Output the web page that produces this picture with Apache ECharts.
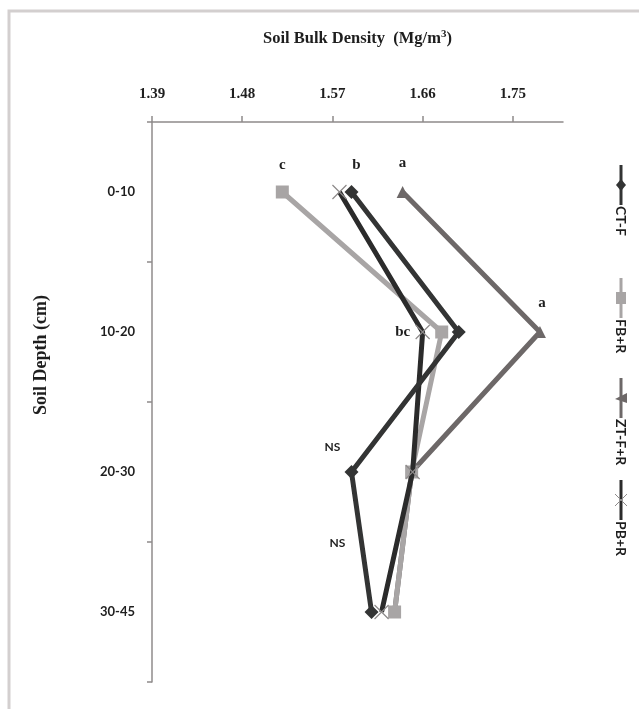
<!DOCTYPE html>
<html>
<head>
<meta charset="utf-8">
<script src="https://cdn.jsdelivr.net/npm/echarts@6/dist/echarts.min.js"></script>
<style>html,body{margin:0;padding:0;background:#fff;}#c{width:639px;height:709px;}</style>
</head>
<body>
<div id="c"></div>
<script>
const categories = ['0-10', '10-20', '20-30', '30-45'];
const xTicks = [1.39, 1.48, 1.57, 1.66, 1.75];
const ctF = [1.589, 1.696, 1.589, 1.609];
const fbR = [1.520, 1.679, 1.649, 1.632];
const ztFR = [1.640, 1.777, 1.649, 1.632];
const pbR = [1.577, 1.660, 1.650, 1.619];
const seriesNames = ['CT-F', 'FB+R', 'ZT-F+R', 'PB+R'];
// significance letters per series, per depth
const sigCT = ['b', '', 'NS', 'NS'];
const sigFB = ['c', '', '', ''];
const sigZT = ['a', 'a', '', ''];
const sigPB = ['', 'bc', '', ''];

const colors = { 'CT-F': '#333434', 'FB+R': '#a8a5a5', 'ZT-F+R': '#6d6868', 'PB+R': '#2b2b2b' };
const symbols = { 'CT-F': 'diamond', 'FB+R': 'rect', 'ZT-F+R': 'triangle', 'PB+R': 'path://M0,0L10,10M10,0L0,10' };

const serif = { fontFamily: 'Liberation Serif', fontWeight: 'bold', color: '#1e1e1e', fontSize: 15 };
const sans = { fontFamily: 'Lato', fontWeight: 'bold', color: '#1e1e1e', fontSize: 12 };

const labelOffsets = {
  'CT-F': [[5, -27], null, [-19, -25], [-34, -69]],
  'FB+R': [[0, -27], null, null, null],
  'ZT-F+R': [[0, -29], [2, -29], null, null],
  'PB+R': [null, [-20, 0], null, null]
};

function build(name, vals, sig) {
  return vals.map((v, i) => {
    const item = { value: v };
    if (sig[i]) {
      const isNS = sig[i] === 'NS';
      item.label = Object.assign({
        show: true, position: 'inside', offset: labelOffsets[name][i],
        formatter: sig[i]
      }, isNS ? sans : serif);
    }
    return item;
  });
}

function mkSeries(name, vals, sig, size, z) {
  const isCross = name === 'PB+R';
  return {
    name: name, type: 'line', data: build(name, vals, sig),
    symbol: symbols[name], symbolSize: size, z: z,
    lineStyle: { color: colors[name], width: 5 },
    itemStyle: isCross ? { color: 'rgba(0,0,0,0)', borderColor: '#8d8a8a', borderWidth: 1.2 } : { color: colors[name] },
    emphasis: { disabled: true },
    animation: false
  };
}

// Legend (vertical, drawn as graphic because the text is rotated)
const legendMarkerY = [185, 298, 398, 500];
const legendElems = [];
seriesNames.forEach((n, i) => {
  const y = legendMarkerY[i];
  legendElems.push({ type: 'line', shape: { x1: 621, y1: y - 20, x2: 621, y2: y + 20 }, style: { stroke: colors[n], lineWidth: 3 } });
  if (n === 'CT-F') legendElems.push({ type: 'polygon', shape: { points: [[621, y - 6], [626, y], [621, y + 6], [616, y]] }, style: { fill: colors[n] } });
  if (n === 'FB+R') legendElems.push({ type: 'rect', shape: { x: 616, y: y - 6, width: 10, height: 12 }, style: { fill: colors[n] } });
  if (n === 'ZT-F+R') legendElems.push({ type: 'polygon', shape: { points: [[627, y - 5], [627, y + 5], [615, y + 1]] }, style: { fill: colors[n] } });
  if (n === 'PB+R') legendElems.push({ type: 'polyline', shape: { points: [[615, y - 6], [627, y + 6]] }, style: { stroke: '#8d8a8a', lineWidth: 1 } },
    { type: 'polyline', shape: { points: [[627, y - 6], [615, y + 6]] }, style: { stroke: '#8d8a8a', lineWidth: 1 } });
  legendElems.push({ type: 'text', x: 621, y: y + 21, rotation: -Math.PI / 2,
    style: { text: n, fill: '#1e1e1e', font: 'bold 14px Lato', align: 'left', verticalAlign: 'middle' } });
});

const chart = echarts.init(document.getElementById('c'), null, { renderer: 'canvas' });
chart.setOption({
  backgroundColor: '#ffffff',
  animation: false,
  grid: { left: 152, top: 122, width: 411, height: 560, containLabel: false },
  xAxis: {
    type: 'value', position: 'top', min: 1.39, max: 1.80, interval: 0.09,
    name: 'Soil Bulk Density  (Mg/m{sup|3})', nameLocation: 'middle', nameGap: 74,
    nameTextStyle: { fontFamily: 'Liberation Serif', fontSize: 16.5, color: '#1e1e1e', fontWeight: 'bold',
      rich: { sup: { fontFamily: 'Liberation Serif', fontSize: 11, fontWeight: 'bold', color: '#1e1e1e', verticalAlign: 'top', padding: [0, 0, 8, 0] } } },
    axisLine: { show: true, lineStyle: { color: '#8f8b8b', width: 1.5 } },
    axisTick: { show: true, length: 6, lineStyle: { color: '#8f8b8b', width: 1.5 }, customValues: xTicks },
    axisLabel: Object.assign({ margin: 20, customValues: xTicks, formatter: v => v.toFixed(2) }, serif),
    splitLine: { show: false }
  },
  yAxis: {
    type: 'category', inverse: true, data: categories, boundaryGap: true,
    axisLine: { show: true, lineStyle: { color: '#8f8b8b', width: 1.5 } },
    axisTick: { show: true, length: 5, lineStyle: { color: '#8f8b8b', width: 1.5 } },
    axisLabel: Object.assign({ margin: 17 }, sans, { fontSize: 13 }),
    splitLine: { show: false }
  },
  series: [
    mkSeries('ZT-F+R', ztFR, sigZT, 12, 2),
    mkSeries('FB+R', fbR, sigFB, 13, 3),
    mkSeries('PB+R', pbR, sigPB, 14, 4),
    mkSeries('CT-F', ctF, sigCT, 14, 5)
  ],
  graphic: [
    { type: 'rect', shape: { x: 9, y: 11, width: 720, height: 800 }, style: { fill: 'none', stroke: '#d3cfcf', lineWidth: 3 }, silent: true },
    { type: 'text', x: 41, y: 355, rotation: Math.PI / 2,
      style: { text: 'Soil Depth (cm)', fill: '#1e1e1e', font: 'bold 18px "Liberation Serif"', align: 'center', verticalAlign: 'middle' } }
  ].concat(legendElems)
});
</script>
</body>
</html>
